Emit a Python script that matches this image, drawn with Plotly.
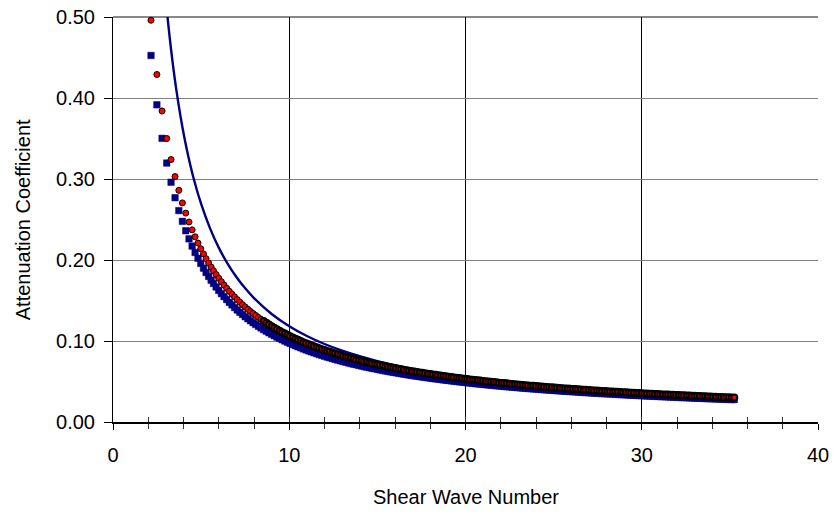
import plotly.graph_objects as go

# ---- data ----
x_early = [2.156, 2.490, 2.784, 3.050, 3.294, 3.521, 3.735, 3.937, 4.129, 4.313,
           4.489, 4.658, 4.822, 4.980, 5.133, 5.282, 5.427, 5.568]
red_early = [0.496, 0.429, 0.384, 0.350, 0.324, 0.303, 0.286, 0.2705, 0.2579, 0.2469,
             0.2372, 0.2286, 0.2209, 0.2139, 0.2075, 0.2016, 0.1962, 0.1913]
blue_early = [0.4525, 0.3916, 0.3502, 0.3197, 0.2960, 0.2769, 0.2610, 0.2477, 0.2361, 0.2261,
              0.2172, 0.2093, 0.2022, 0.1958, 0.1899, 0.1846, 0.1797, 0.1751]

x_dense = [5.70, 5.85, 6.00, 6.15, 6.30, 6.45, 6.60, 6.75, 6.90, 7.05,
           7.20, 7.35, 7.50, 7.65, 7.80, 7.95, 8.10, 8.25, 8.40, 8.55,
           8.70, 8.85, 9.00, 9.15, 9.30, 9.45, 9.60, 9.75, 9.90, 10.05,
           10.20, 10.35, 10.50, 10.65, 10.80, 10.95, 11.10, 11.25, 11.40, 11.55,
           11.70, 11.85, 12.00, 12.15, 12.30, 12.45, 12.60, 12.75, 12.90, 13.05,
           13.20, 13.35, 13.50, 13.65, 13.80, 13.95, 14.10, 14.25, 14.40, 14.55,
           14.70, 14.85, 15.00, 15.15, 15.30, 15.45, 15.60, 15.75, 15.90, 16.05,
           16.20, 16.35, 16.50, 16.65, 16.80, 16.95, 17.10, 17.25, 17.40, 17.55,
           17.70, 17.85, 18.00, 18.15, 18.30, 18.45, 18.60, 18.75, 18.90, 19.05,
           19.20, 19.35, 19.50, 19.65, 19.80, 19.95, 20.10, 20.25, 20.40, 20.55,
           20.70, 20.85, 21.00, 21.15, 21.30, 21.45, 21.60, 21.75, 21.90, 22.05,
           22.20, 22.35, 22.50, 22.65, 22.80, 22.95, 23.10, 23.25, 23.40, 23.55,
           23.70, 23.85, 24.00, 24.15, 24.30, 24.45, 24.60, 24.75, 24.90, 25.05,
           25.20, 25.35, 25.50, 25.65, 25.80, 25.95, 26.10, 26.25, 26.40, 26.55,
           26.70, 26.85, 27.00, 27.15, 27.30, 27.45, 27.60, 27.75, 27.90, 28.05,
           28.20, 28.35, 28.50, 28.65, 28.80, 28.95, 29.10, 29.25, 29.40, 29.55,
           29.70, 29.85, 30.00, 30.15, 30.30, 30.45, 30.60, 30.75, 30.90, 31.05,
           31.20, 31.35, 31.50, 31.65, 31.80, 31.95, 32.10, 32.25, 32.40, 32.55,
           32.70, 32.85, 33.00, 33.15, 33.30, 33.45, 33.60, 33.75, 33.90, 34.05,
           34.20, 34.35, 34.50, 34.65, 34.80, 34.95, 35.10, 35.25]

red_dense = [0.1868, 0.1821, 0.1775, 0.1732, 0.1691, 0.1651, 0.1614, 0.1578, 0.1544, 0.1511,
             0.1479, 0.1449, 0.1420, 0.1392, 0.1365, 0.1340, 0.1315, 0.1291, 0.1268, 0.1246,
             0.1224, 0.1203, 0.1183, 0.1164, 0.1145, 0.1127, 0.1109, 0.1092, 0.1076, 0.1060,
             0.1044, 0.1029, 0.1014, 0.1000, 0.0986, 0.0973, 0.0960, 0.0947, 0.0934, 0.0922,
             0.0910, 0.0899, 0.0888, 0.0877, 0.0866, 0.0855, 0.0845, 0.0835, 0.0826, 0.0816,
             0.0807, 0.0798, 0.0789, 0.0780, 0.0772, 0.0763, 0.0755, 0.0747, 0.0740, 0.0732,
             0.0725, 0.0717, 0.0710, 0.0703, 0.0696, 0.0689, 0.0683, 0.0676, 0.0670, 0.0664,
             0.0657, 0.0651, 0.0646, 0.0640, 0.0634, 0.0628, 0.0623, 0.0617, 0.0612, 0.0607,
             0.0602, 0.0597, 0.0592, 0.0587, 0.0582, 0.0577, 0.0573, 0.0568, 0.0564, 0.0559,
             0.0555, 0.0550, 0.0546, 0.0542, 0.0538, 0.0534, 0.0530, 0.0526, 0.0522, 0.0518,
             0.0515, 0.0511, 0.0507, 0.0504, 0.0500, 0.0497, 0.0493, 0.0490, 0.0486, 0.0483,
             0.0480, 0.0477, 0.0473, 0.0470, 0.0467, 0.0464, 0.0461, 0.0458, 0.0455, 0.0452,
             0.0449, 0.0447, 0.0444, 0.0441, 0.0438, 0.0436, 0.0433, 0.0430, 0.0428, 0.0425,
             0.0423, 0.0420, 0.0418, 0.0415, 0.0413, 0.0411, 0.0408, 0.0406, 0.0403, 0.0401,
             0.0399, 0.0397, 0.0395, 0.0392, 0.0390, 0.0388, 0.0386, 0.0384, 0.0382, 0.0380,
             0.0378, 0.0376, 0.0374, 0.0372, 0.0370, 0.0368, 0.0366, 0.0364, 0.0362, 0.0360,
             0.0359, 0.0357, 0.0355, 0.0353, 0.0352, 0.0350, 0.0348, 0.0346, 0.0345, 0.0343,
             0.0341, 0.0340, 0.0338, 0.0337, 0.0335, 0.0333, 0.0332, 0.0330, 0.0329, 0.0327,
             0.0326, 0.0324, 0.0323, 0.0321, 0.0320, 0.0318, 0.0317, 0.0316, 0.0314, 0.0313,
             0.0311, 0.0310, 0.0309, 0.0307, 0.0306, 0.0305, 0.0303, 0.0302]

blue_dense = [0.1711, 0.1667, 0.1625, 0.1585, 0.1548, 0.1512, 0.1477, 0.1445, 0.1413, 0.1383,
              0.1354, 0.1327, 0.1300, 0.1275, 0.1250, 0.1226, 0.1204, 0.1182, 0.1161, 0.1140,
              0.1121, 0.1102, 0.1083, 0.1066, 0.1048, 0.1032, 0.1016, 0.1000, 0.0985, 0.0970,
              0.0956, 0.0942, 0.0929, 0.0916, 0.0903, 0.0890, 0.0878, 0.0867, 0.0855, 0.0844,
              0.0833, 0.0823, 0.0813, 0.0802, 0.0793, 0.0783, 0.0774, 0.0765, 0.0756, 0.0747,
              0.0739, 0.0730, 0.0722, 0.0714, 0.0707, 0.0699, 0.0692, 0.0684, 0.0677, 0.0670,
              0.0663, 0.0657, 0.0650, 0.0644, 0.0637, 0.0631, 0.0625, 0.0619, 0.0613, 0.0608,
              0.0602, 0.0596, 0.0591, 0.0586, 0.0580, 0.0575, 0.0570, 0.0565, 0.0560, 0.0556,
              0.0551, 0.0546, 0.0542, 0.0537, 0.0533, 0.0529, 0.0524, 0.0520, 0.0516, 0.0512,
              0.0508, 0.0504, 0.0500, 0.0496, 0.0493, 0.0489, 0.0485, 0.0482, 0.0478, 0.0474,
              0.0471, 0.0468, 0.0464, 0.0461, 0.0458, 0.0455, 0.0451, 0.0448, 0.0445, 0.0442,
              0.0439, 0.0436, 0.0433, 0.0431, 0.0428, 0.0425, 0.0422, 0.0419, 0.0417, 0.0414,
              0.0411, 0.0409, 0.0406, 0.0404, 0.0401, 0.0399, 0.0396, 0.0394, 0.0392, 0.0389,
              0.0387, 0.0385, 0.0382, 0.0380, 0.0378, 0.0376, 0.0374, 0.0372, 0.0369, 0.0367,
              0.0365, 0.0363, 0.0361, 0.0359, 0.0357, 0.0355, 0.0353, 0.0351, 0.0349, 0.0348,
              0.0346, 0.0344, 0.0342, 0.0340, 0.0339, 0.0337, 0.0335, 0.0333, 0.0332, 0.0330,
              0.0328, 0.0327, 0.0325, 0.0323, 0.0322, 0.0320, 0.0319, 0.0317, 0.0316, 0.0314,
              0.0313, 0.0311, 0.0310, 0.0308, 0.0307, 0.0305, 0.0304, 0.0302, 0.0301, 0.0300,
              0.0298, 0.0297, 0.0295, 0.0294, 0.0293, 0.0292, 0.0290, 0.0289, 0.0288, 0.0286,
              0.0285, 0.0284, 0.0283, 0.0281, 0.0280, 0.0279, 0.0278, 0.0277]

line_x = [3.05, 3.2, 3.4, 3.6, 3.8, 4.0, 4.3, 4.6, 5.0, 5.5, 6.0, 6.5, 7.0, 7.5, 8.0,
          9.0, 10, 11, 12, 13, 14, 15, 16.5, 18, 20, 22, 24, 26, 28, 30, 32, 34, 35.25]
line_y = [0.5096, 0.4780, 0.4410, 0.4091, 0.3813, 0.3569, 0.3254, 0.2987, 0.2692, 0.2394,
          0.2153, 0.1955, 0.1790, 0.1650, 0.1530, 0.1334, 0.1183, 0.1062, 0.0963, 0.0881,
          0.0812, 0.0752, 0.0678, 0.0617, 0.0551, 0.0498, 0.0453, 0.0416, 0.0385, 0.0358,
          0.0335, 0.0314, 0.0302]

y_ticks = [0.0, 0.1, 0.2, 0.3, 0.4, 0.5]
x_ticks = [0, 10, 20, 30, 40]

x_all = x_early + x_dense
red_all = red_early + red_dense
blue_all = blue_early + blue_dense

NAVY = "#000080"
FONT = "Liberation Sans, Arial, sans-serif"
FS = 20

# where the markers pile up into a solid band, their outlines merge into black
red_outline = [1.0 if xv < 8.5 else 2.0 for xv in x_all]

fig = go.Figure()
fig.add_trace(go.Scatter(x=line_x, y=line_y, mode="lines",
                         line=dict(color=NAVY, width=2.4, shape="spline"),
                         showlegend=False, hoverinfo="skip"))
fig.add_trace(go.Scatter(x=x_all, y=blue_all, mode="markers", cliponaxis=False,
                         marker=dict(symbol="square", size=6.5, color=NAVY, line=dict(color=NAVY, width=0.5)),
                         showlegend=False))
fig.add_trace(go.Scatter(x=x_all, y=red_all, mode="markers", cliponaxis=False,
                         marker=dict(symbol="circle", size=6, color="#FF0000",
                                     line=dict(color="#000000", width=red_outline)),
                         showlegend=False))
# invisible trace on the overlay axis that carries the inner half of the cross ticks
fig.add_trace(go.Scatter(x=[0, 40], y=[0, 0], xaxis="x2", mode="markers", marker=dict(opacity=0),
                         showlegend=False, hoverinfo="skip"))

fig.update_layout(
    width=833, height=517,
    margin=dict(l=113, r=15, t=17, b=95),
    paper_bgcolor="white", plot_bgcolor="white",
    font=dict(family=FONT, size=FS, color="black"),
    xaxis=dict(range=[0, 40], tickvals=x_ticks, ticks="outside", ticklen=6, tickwidth=1, tickcolor="black",
               showline=True, linecolor="black", linewidth=2, automargin=False,
               showgrid=True, gridcolor="black", gridwidth=1, zeroline=False,
               minor=dict(dtick=2, ticks="outside", ticklen=5, tickcolor="#333333", showgrid=False),
               tickfont=dict(size=FS), ticklabelstandoff=8, ticklabeloverflow="allow", fixedrange=True),
    xaxis2=dict(range=[0, 40], overlaying="x", anchor="y", side="bottom", dtick=2, ticks="inside",
                ticklen=5, tickcolor="#333333", showticklabels=False, showgrid=False, zeroline=False,
                showline=False, automargin=False),
    yaxis=dict(range=[0, 0.5], tickvals=y_ticks, tickformat=".2f", ticks="outside", ticklen=8,
               tickcolor="black", showline=True, linecolor="black", linewidth=1, automargin=False,
               showgrid=True, gridcolor="#808080", gridwidth=1.3, zeroline=False,
               tickfont=dict(size=FS), ticklabelstandoff=5, ticklabeloverflow="allow", fixedrange=True),
    shapes=[dict(type="line", xref="paper", yref="paper", x0=0, x1=1, y0=1, y1=1,
                 line=dict(color="#606060", width=1.3), layer="below")],
    annotations=[
        dict(text="Attenuation Coefficient", xref="paper", yref="paper", x=-0.128, y=0.5,
             textangle=-90, showarrow=False, xanchor="center", yanchor="middle", font=dict(size=FS)),
        dict(text="Shear Wave Number", xref="paper", yref="paper", x=0.5, y=-0.186,
             showarrow=False, xanchor="center", yanchor="middle", font=dict(size=FS)),
    ],
)

# remove the browser's default 8 px body margin so the figure fills the window exactly
fig.write_html("out.html", config={"displayModeBar": False},
               post_script="document.body.style.margin='0';")
